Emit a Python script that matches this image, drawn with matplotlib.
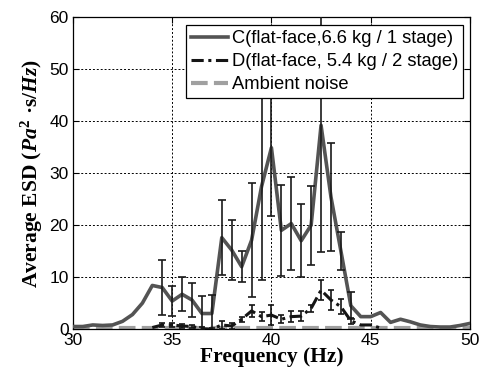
import numpy as np
import matplotlib
matplotlib.use("Agg")
import matplotlib.pyplot as plt

# Frequency grid (Hz)
freq = [30.0, 30.5, 31.0, 31.5, 32.0, 32.5, 33.0, 33.5, 34.0, 34.5,
        35.0, 35.5, 36.0, 36.5, 37.0, 37.5, 38.0, 38.5, 39.0, 39.5,
        40.0, 40.5, 41.0, 41.5, 42.0, 42.5, 43.0, 43.5, 44.0, 44.5,
        45.0, 45.5, 46.0, 46.5, 47.0, 47.5, 48.0, 48.5, 49.0, 49.5, 50.0]

# C (flat-face, 6.6 kg / 1 stage)
esd_c = [0.5, 0.5, 0.8, 0.7, 0.8, 1.5, 2.8, 5.0, 8.4, 8.0,
         5.4, 6.7, 5.6, 3.0, 3.0, 17.6, 15.2, 12.0, 17.1, 27.4,
         34.9, 19.0, 20.3, 17.0, 20.0, 39.2, 25.4, 15.0, 4.5, 2.4,
         2.4, 3.2, 1.3, 1.9, 1.4, 0.8, 0.5, 0.4, 0.4, 0.7, 1.1]
err_freq_c = [34.5, 35.0, 35.5, 36.0, 36.5, 37.0, 37.5, 38.0, 38.5, 39.0,
              39.5, 40.0, 40.5, 41.0, 41.5, 42.0, 42.5, 43.0, 43.5, 44.0]
err_c = [5.3, 2.8, 3.3, 3.3, 3.4, 3.6, 7.2, 5.7, 3.0, 11.0,
         17.9, 13.1, 8.8, 9.0, 7.0, 7.6, 24.4, 10.4, 3.6, 2.6]

# D (flat-face, 5.4 kg / 2 stage)
freq_d = [34.0, 34.5, 35.0, 35.5, 36.0, 36.5, 37.0, 37.5, 38.0, 38.5,
          39.0, 39.5, 40.0, 40.5, 41.0, 41.5, 42.0, 42.5, 43.0, 43.5,
          44.0, 44.5, 45.0, 45.5]
esd_d = [0.3, 0.8, 0.8, 0.6, 0.5, 0.1, 0.0, 0.8, 0.6, 1.9,
         3.5, 2.4, 2.7, 1.9, 2.4, 2.5, 4.0, 7.5, 5.6, 4.3,
         1.6, 0.8, 0.8, 0.2]
err_freq_d = [34.5, 35.0, 35.5, 36.0, 36.5, 37.0, 37.5, 38.0, 38.5, 39.0,
              39.5, 40.0, 40.5, 41.0, 41.5, 42.0, 42.5, 43.0, 43.5, 44.0]
err_d = [0.3, 0.3, 0.3, 0.3, 0.3, 0.3, 0.7, 0.5, 0.5, 1.2,
         0.8, 1.9, 0.8, 1.0, 0.9, 0.7, 1.9, 1.9, 1.4, 0.6]

# Ambient noise
esd_amb = [0.15] * len(freq)

legend_labels = ["C(flat-face,6.6 kg / 1 stage)",
                 "D(flat-face, 5.4 kg / 2 stage)",
                 "Ambient noise"]
x_ticks = [30, 35, 40, 45, 50]
y_ticks = [0, 10, 20, 30, 40, 50, 60]

plt.rcParams["font.family"] = ["Liberation Sans", "DejaVu Sans"]
plt.rcParams["mathtext.fontset"] = "custom"
plt.rcParams["mathtext.rm"] = "Liberation Serif:bold"
plt.rcParams["mathtext.it"] = "Liberation Serif:italic:bold"
plt.rcParams["mathtext.bf"] = "Liberation Serif:bold"

fig = plt.figure(figsize=(4.86, 3.74), dpi=100)
ax = fig.add_axes([0.150, 0.120, 0.817, 0.834])

line_c, = ax.plot(freq, esd_c, color="#545454", lw=2.6, zorder=3)
c_lookup = dict(zip(freq, esd_c))
ax.errorbar(err_freq_c, [c_lookup[f] for f in err_freq_c], yerr=err_c,
            fmt="none", ecolor="#1a1a1a", elinewidth=1.2, capsize=2.6,
            capthick=1.2, zorder=4)

line_d, = ax.plot(freq_d, esd_d, color="#151515", lw=2.2,
                  ls=(0, (4, 1.5, 1, 1.5)), zorder=5)
d_lookup = dict(zip(freq_d, esd_d))
ax.errorbar(err_freq_d, [d_lookup[f] for f in err_freq_d], yerr=err_d,
            fmt="none", ecolor="#151515", elinewidth=1.2, capsize=2.3,
            capthick=1.2, zorder=5)

line_a, = ax.plot(freq, esd_amb, color="#a0a0a0", lw=3, ls=(0, (4, 1.5)),
                  zorder=2)

ax.set_xlim(30, 50)
ax.set_ylim(0, 60)
ax.set_xticks(x_ticks)
ax.set_yticks(y_ticks)
ax.tick_params(direction="in", length=4, width=0.8, top=True, right=True,
               labelsize=12.5, pad=3, colors="black")
ax.grid(True, color="black", ls=(0, (2, 2)), lw=0.7)
for s in ax.spines.values():
    s.set_linewidth(0.9)

ax.set_xlabel("Frequency (Hz)", family="Liberation Serif", fontweight="bold",
              fontsize=15.5, labelpad=-1)
ax.set_ylabel(r"Average ESD ($Pa^{2}$ ·s/$Hz$)", family="Liberation Serif",
              fontweight="bold", fontsize=15.5, labelpad=3)

leg = ax.legend([line_c, line_d, line_a], legend_labels, loc="upper right",
                bbox_to_anchor=(0.99, 0.983), fontsize=13.2, frameon=True,
                fancybox=False, edgecolor="black", framealpha=1,
                handlelength=2.0, handletextpad=0.2, borderpad=0.28,
                labelspacing=0.32, borderaxespad=0.15)
leg.get_frame().set_linewidth(0.9)
leg.set_zorder(10)

fig.savefig("out.png", dpi=100)
